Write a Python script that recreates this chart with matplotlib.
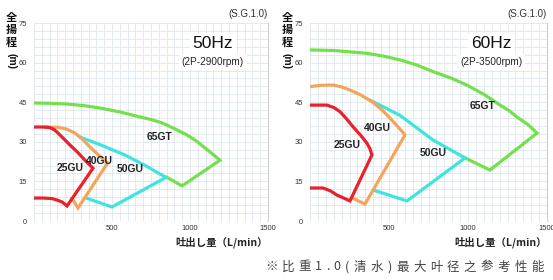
import numpy as np
import matplotlib
matplotlib.use("Agg")
import matplotlib.pyplot as plt

plt.rcParams['font.family'] = ['Liberation Sans', 'Noto Sans CJK JP', 'DejaVu Sans']

# ---- data (Q en L/min, H en m) ----
# 50Hz (2P-2900rpm)
q25_50 = [0, 60, 100, 130, 154, 190, 230, 280, 327, 378, 212, 180, 150, 115, 60, 0]
h25_50 = [35.6, 35.6, 35.4, 34.6, 33.3, 31.2, 28.8, 26.0, 23.0, 20.0, 5.7, 7.2, 7.9, 8.5, 8.7, 8.7]
q40_50 = [70, 154, 210, 263, 310, 359, 395, 423, 472, 282, 244]
h40_50 = [35.6, 35.5, 34.8, 33.3, 31.0, 28.0, 26.0, 24.5, 22.0, 4.9, 8.6]
q50_50 = [295, 420, 583, 720, 846, 500, 335]
h50_50 = [31.8, 29.0, 25.0, 20.8, 16.5, 5.3, 8.7]
q65_50 = [0, 100, 212, 320, 423, 551, 680, 760, 827, 900, 981, 1040, 1083, 1140, 1192, 949, 853]
h65_50 = [44.7, 44.6, 44.3, 43.7, 42.8, 41.3, 39.4, 38.3, 37.0, 35.0, 32.6, 30.3, 28.3, 25.6, 23.0, 13.3, 16.5]

# 60Hz (2P-3500rpm)
q25_60 = [0, 107, 150, 190, 230, 272, 320, 360, 380, 392, 253, 210, 171, 130, 82, 0]
h25_60 = [43.9, 43.9, 43.0, 41.4, 38.8, 35.7, 32.5, 29.5, 27.3, 25.0, 7.6, 8.8, 9.8, 11.4, 12.5, 12.5]
q40_60 = [0, 70, 146, 200, 253, 320, 392, 450, 506, 560, 601, 348, 268]
h40_60 = [50.9, 51.4, 51.5, 50.8, 49.6, 47.8, 45.2, 42.4, 39.0, 35.5, 32.6, 6.4, 8.7]
q50_60 = [380, 570, 778, 981, 614, 402]
h50_60 = [45.8, 40.0, 30.7, 23.9, 7.6, 11.7]
q65_60 = [0, 150, 360, 470, 570, 680, 778, 890, 992, 1100, 1203, 1260, 1309, 1380, 1437, 1139, 981]
h65_60 = [64.8, 64.6, 63.5, 62.4, 61.0, 59.0, 56.6, 54.2, 51.5, 48.0, 43.9, 41.8, 39.4, 36.5, 33.3, 19.3, 23.9]

modeles = ["25GU", "40GU", "50GU", "65GT"]
couleurs = ["#e8212b", "#f2a65a", "#3fe4e0", "#74e04e"]

# positions des etiquettes (Q, H)
etiq_50 = {"25GU": (231, 20.0), "40GU": (416, 22.7), "50GU": (615, 19.7), "65GT": (808, 31.8)}
etiq_60 = {"25GU": (234, 28.8), "40GU": (424, 35.2), "50GU": (778, 25.8), "65GT": (1095, 43.6)}

yticks = [0, 15, 30, 45, 60, 75]
xticks = [500, 1000, 1500]

fig = plt.figure(figsize=(5.53, 2.80), dpi=100)
ax1 = fig.add_axes([34/553, 59/280, 234/553, 198/280])
ax2 = fig.add_axes([310/553, 59/280, 237/553, 198/280])

courbes = [
    (ax1, [(q25_50, h25_50), (q40_50, h40_50), (q50_50, h50_50), (q65_50, h65_50)], etiq_50, "50Hz", "(2P-2900rpm)"),
    (ax2, [(q25_60, h25_60), (q40_60, h40_60), (q50_60, h50_60), (q65_60, h65_60)], etiq_60, "60Hz", "(2P-3500rpm)"),
]

for ax, series, etiq, freq, vitesse in courbes:
    ax.set_xlim(0, 1500)
    ax.set_ylim(0, 75)
    ax.set_xticks(xticks)
    ax.set_yticks(yticks)
    ax.set_xticks(np.arange(0, 1501, 50), minor=True)
    ax.set_yticks(np.arange(0, 76, 3), minor=True)
    ax.grid(which='both', color='#dde5ee', lw=0.6)
    ax.tick_params(which='both', length=0, labelsize=5.5, colors='#333333')
    ax.tick_params(axis='y', pad=5)
    ax.tick_params(axis='x', pad=3)
    for s in ['left', 'bottom', 'top']:
        ax.spines[s].set_visible(False)
    ax.spines['right'].set_color('#d0d0d0')
    ax.spines['right'].set_linewidth(0.8)
    ax.set_axisbelow(True)

    # ordre : 65GT en dessous, 25GU au dessus
    for i in range(3, -1, -1):
        q, h = series[i]
        ax.plot(q, h, color=couleurs[i], lw=2.3, solid_joinstyle='miter', zorder=3 + (3 - i))
    for m in modeles:
        ax.text(etiq[m][0], etiq[m][1], m, fontsize=7.5, fontweight='bold', color='#222222',
                ha='center', va='center', zorder=10)

    ax.text(1147, 67.2, freq, fontsize=12.5, ha='center', va='center', color='#111111',
            bbox=dict(facecolor='white', edgecolor='none', pad=2), zorder=8)
    ax.text(1147, 60.2, vitesse, fontsize=7.2, ha='center', va='center', color='#222222',
            bbox=dict(facecolor='white', edgecolor='none', pad=2), zorder=8)
    ax.text(1500, 78.5, "(S.G.1.0)", fontsize=7, ha='right', va='center', color='#333333')
    ax.text(1500, -8.0, "吐出し量（L/min）", fontsize=7.5, fontweight='bold', ha='right',
            va='center', color='#222222', family=['Noto Sans CJK JP', 'DejaVu Sans'])

# titre de l'axe vertical (ecrit verticalement)
for x0 in [11, 287]:
    for k, c in enumerate("全揚程"):
        fig.text(x0/553, 1 - (17 + 12.5*k)/280, c, fontsize=8, fontweight='bold', ha='center',
                 va='center', color='#111111', family=['Noto Sans CJK JP', 'DejaVu Sans'])
    fig.text(x0/553, 1 - 61/280, "(m)", fontsize=7.5, fontweight='bold', ha='center',
             va='center', rotation=-90, color='#111111')

# note en bas a droite
note = "※比重1.0(清水)最大叶径之参考性能"
x = 263
for c in note:
    largeur = 9.5 if c in "1.0()" else 16.8
    fig.text((x + largeur/2)/553, 1 - 267/280, c, fontsize=9, ha='center', va='center',
             color='#444444', family=['Noto Sans CJK SC', 'DejaVu Sans'])
    x += largeur

plt.savefig("out.png", dpi=100)
